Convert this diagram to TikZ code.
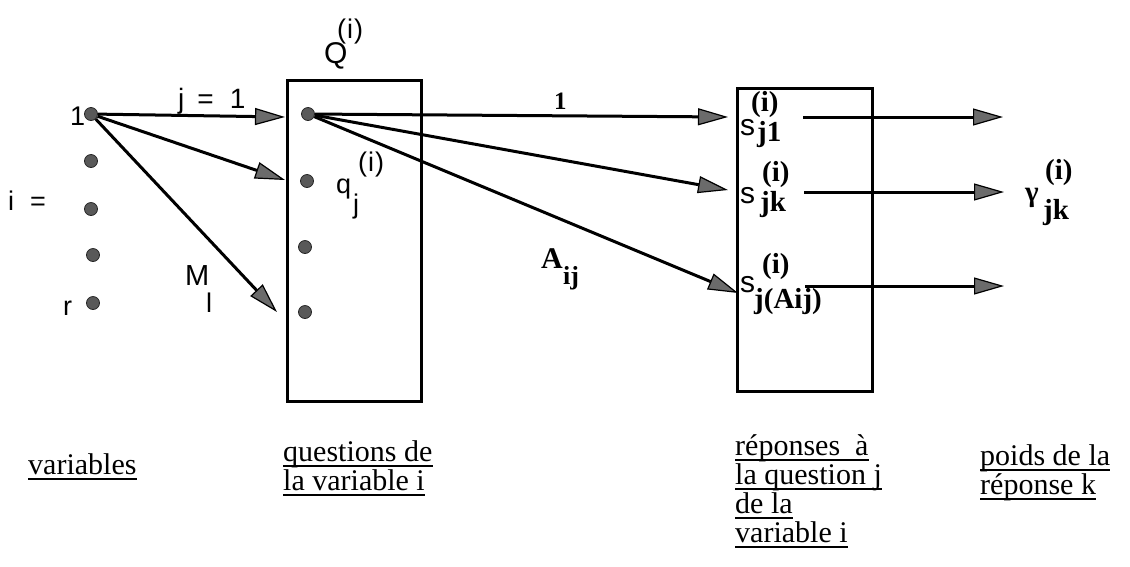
\documentclass[tikz,border=0pt]{standalone}
\usepackage{fontspec}
\setmainfont{Liberation Serif}
\newfontfamily\sansf{Liberation Sans}
\usetikzlibrary{arrows.meta}
\begin{document}
\begin{tikzpicture}[x=1pt,y=-1pt,
  dot/.style={circle, fill=black!65, draw=black!85, line width=0.8pt, minimum size=13pt, inner sep=0},
  box/.style={draw, line width=3pt, inner sep=0},
  arr/.style={line width=3pt, -{Triangle[length=30pt,width=17pt,line width=1.2pt,fill=black!58]}},
  lbl/.style={inner sep=0, anchor=base west},
  sl/.style={lbl, font=\sansf\fontsize{27}{30}\selectfont},
  bl/.style={lbl, font=\bfseries\fontsize{29}{32}\selectfont},
  capt/.style={lbl, font=\fontsize{30}{29}\selectfont},
  uline/.style={line width=1.8pt}
]
\useasboundingbox (0,0) rectangle (1130,566);

% boxes
\node[box, minimum width=134pt, minimum height=321pt] (Qbox) at (354,240.5) {};
\node[box, minimum width=135pt, minimum height=303pt] (Sbox) at (804.5,239.5) {};

% variable dots
\node[dot] (v1) at (91,114) {};
\node[dot] (v2) at (91,161) {};
\node[dot] (v3) at (91,209) {};
\node[dot] (v4) at (93,255) {};
\node[dot] (vr) at (93,303) {};

% question dots
\node[dot] (q1) at (308,114) {};
\node[dot] (q2) at (307,181) {};
\node[dot] (q3) at (305,247) {};
\node[dot] (q4) at (305,312) {};

% arrow tips / free ends
\coordinate (tq1) at (285,117);
\coordinate (tq2) at (285,180);
\coordinate (tq3) at (277,312);
\coordinate (ts1) at (728,117);
\coordinate (ts2) at (728,190);
\coordinate (ts3) at (738,293);
\coordinate (o1s) at (803,117);
\coordinate (o2s) at (804,192);
\coordinate (o3s) at (805,286);
\coordinate (o1e) at (1003,117);
\coordinate (o2e) at (1004,192);
\coordinate (o3e) at (1004,286);

\draw[arr] (v1) -- (tq1);
\draw[arr] (v1) -- (tq2);
\draw[arr] (v1) -- (tq3);
\draw[arr] (q1) -- (ts1);
\draw[arr] (q1) -- (ts2);
\draw[arr] (q1) -- (ts3);
\draw[arr] (o1s) -- (o1e);
\draw[arr] (o2s) -- (o2e);
\draw[arr] (o3s) -- (o3e);

% sans labels
\node[sl] (l1) at (70,125) {1};
\node[sl] (li) at (8,210) {i\hspace{16pt}=};
\node[sl] (lr) at (63,315) {r};
\node[sl, font=\sansf\fontsize{28}{31}\selectfont] (lj) at (178,108) {j\hspace{13pt}=\hspace{16pt}1};
\node[sl, font=\sansf\fontsize{30}{33}\selectfont] (lQ) at (324,63) {Q};
\node[sl] (lQi) at (337,38) {(\kern1pt i\kern1pt)};
\node[sl] (lq) at (336,193) {q};
\node[sl] (lqj) at (353,213) {j};
\node[sl] (lqi) at (358,171) {(\kern1pt i\kern1pt)};
\node[sl, font=\sansf\fontsize{29}{32}\selectfont] (lM) at (185,285) {M};
\node[sl] (lMi) at (206,312) {l};

% bold serif labels
\node[bl, font=\bfseries\fontsize{25}{28}\selectfont] (lone) at (554,109) {1};
\node[bl, font=\bfseries\fontsize{30}{33}\selectfont] (lA) at (541,268) {A};
\node[bl, font=\bfseries\fontsize{26}{29}\selectfont] (lAij) at (563,284) {ij};

\node[sl, font=\sansf\fontsize{30}{33}\selectfont] (s1) at (740,135) {s};
\node[bl] (s1i) at (751,111) {(i)};
\node[bl] (s1j) at (757,141) {j1};
\node[sl, font=\sansf\fontsize{30}{33}\selectfont] (s2) at (740,203) {s};
\node[bl] (s2i) at (762,181) {(i)};
\node[bl] (s2j) at (760,211) {jk};
\node[sl, font=\sansf\fontsize{30}{33}\selectfont] (s3) at (740,292) {s};
\node[bl] (s3i) at (762,273) {(i)};
\node[bl] (s3j) at (754,308) {j(Aij)};

\node[bl] (g) at (1025,201) {γ};
\node[bl] (gi) at (1045,179) {(i)};
\node[bl] (gj) at (1043,219) {jk};

% captions
\node[capt] (c1) at (28,474) {variables};
\node[capt] (c2a) at (283,461) {questions de\ };
\node[capt] (c2b) at (283,490) {la variable i};
\node[capt] (c3a) at (735,455) {réponses\ \ à};
\node[capt] (c3b) at (735,484) {la question j};
\node[capt] (c3c) at (735,513) {de la\ };
\node[capt] (c3d) at (735,542) {variable i};
\node[capt] (c4a) at (980,465) {poids de la\ };
\node[capt] (c4b) at (980,494) {réponse k\ };

\foreach \n in {c1,c2a,c2b,c3a,c3b,c3c,c3d,c4a,c4b}
  \draw[uline] ([yshift=-5pt]\n.base west) -- ([yshift=-5pt]\n.base east);
\end{tikzpicture}
\end{document}
